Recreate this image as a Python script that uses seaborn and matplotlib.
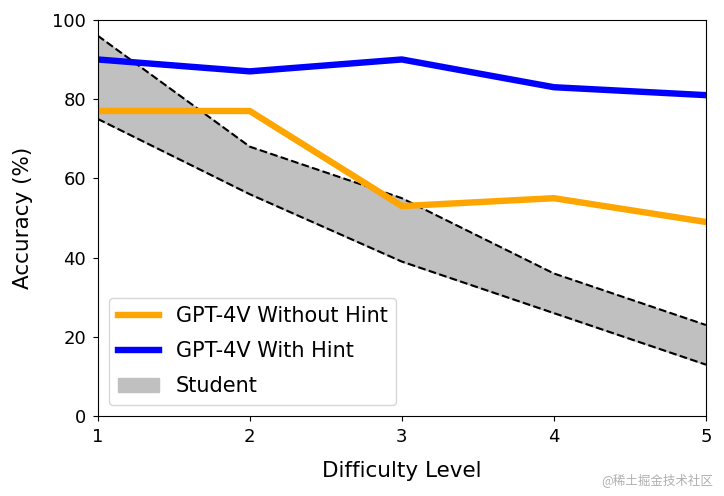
import matplotlib
matplotlib.use("Agg")
import matplotlib.pyplot as plt
import seaborn as sns
import pandas as pd

# difficulty levels and accuracy values (%)
levels = [1, 2, 3, 4, 5]
without_hint = [77, 77, 53, 55, 49]
with_hint = [90, 87, 90, 83, 81]
student_upper = [96, 68, 55, 36, 23]
student_lower = [75, 56, 39, 26, 13]

df = pd.DataFrame({
    "level": levels * 2,
    "acc": without_hint + with_hint,
    "model": ["GPT-4V Without Hint"] * 5 + ["GPT-4V With Hint"] * 5,
})

plt.rcParams["font.size"] = 13
fig, ax = plt.subplots(figsize=(7.24, 4.96), dpi=100)

# student range as grey band with dashed borders
ax.fill_between(levels, student_lower, student_upper, color="#c0c0c0", label="Student")
ax.plot(levels, student_upper, "k--", lw=1.5)
ax.plot(levels, student_lower, "k--", lw=1.5)

sns.lineplot(data=df, x="level", y="acc", hue="model", ax=ax, linewidth=4.6,
             palette={"GPT-4V Without Hint": "orange", "GPT-4V With Hint": "blue"})

handles, labels = ax.get_legend_handles_labels()
order = [labels.index(l) for l in ["GPT-4V Without Hint", "GPT-4V With Hint", "Student"]]
ax.legend([handles[i] for i in order], [labels[i] for i in order],
          loc="lower left", fontsize=15, borderaxespad=0.55, labelspacing=0.72)

ax.set_xlim(1, 5)
ax.set_ylim(0, 100)
ax.set_xticks(levels)
ax.tick_params(labelsize=13, pad=5)
ax.set_xlabel("Difficulty Level", fontsize=15.5, labelpad=11)
ax.set_ylabel("Accuracy (%)", fontsize=15.5, labelpad=14)

fig.text(0.985, 0.018, "@稀土掘金技术社区", ha="right", va="bottom", fontsize=9,
         color="#b0b0b0", family=["Noto Sans CJK SC", "DejaVu Sans"])

fig.subplots_adjust(left=0.135, right=0.975, top=0.96, bottom=0.161)
fig.savefig("out.png", dpi=100)
